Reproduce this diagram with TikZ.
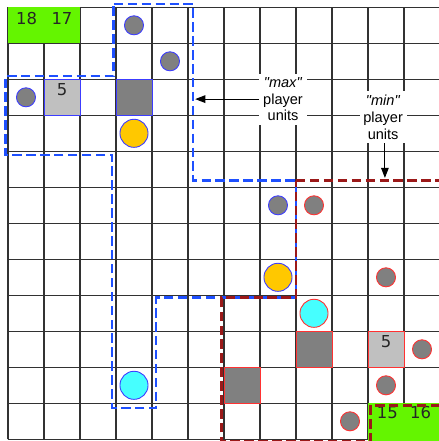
\documentclass[tikz,border=0pt]{standalone}
\usepackage{fontspec}
\newfontfamily\labelfont{Liberation Sans}
\newfontfamily\numfont{DejaVu Sans}
\usetikzlibrary{arrows.meta,positioning}
\definecolor{GridGray}{RGB}{50,50,50}
\definecolor{HomeGreen}{RGB}{100,245,0}
\definecolor{UnitGray}{RGB}{128,128,128}
\definecolor{BaseGray}{RGB}{192,192,192}
\definecolor{MaxBlue}{RGB}{30,80,255}
\definecolor{MinRed}{RGB}{155,25,25}
\definecolor{EdgeBlue}{RGB}{60,60,255}
\definecolor{EdgeRed}{RGB}{255,50,50}
\definecolor{GoldYellow}{RGB}{255,200,0}
\definecolor{AquaCyan}{RGB}{70,255,255}

\begin{document}
\begin{tikzpicture}[
    gridline/.style={draw=GridGray,line width=1pt},
    home/.style={fill=HomeGreen},
    cellbox/.style={draw=#1,line width=0.7pt,minimum size=1cm,inner sep=0pt},
    pawn/.style={circle,draw=#1,fill=UnitGray,line width=0.7pt,minimum size=0.53cm,inner sep=0pt},
    bigpawn/.style={circle,draw=#1,line width=0.7pt,minimum size=0.78cm,inner sep=0pt},
    cellnum/.style={font=\numfont\fontsize{13}{15}\selectfont,text=black!85,inner sep=0pt},
    zone/.style={line width=2.2pt,dash pattern=on 7.5pt off 3.5pt},
    tag/.style={fill=white,align=center,inner sep=3pt,font=\labelfont\fontsize{11.5}{13.2}\selectfont},
    arr/.style={-{Triangle[length=8pt,width=6pt]},line width=0.8pt}
  ]
    \useasboundingbox (-0.222,0.203) rectangle (11.972,-12.047);
    \clip (-0.222,0.203) rectangle (11.972,-12.047);

    % board
    \draw[gridline] (0,0) grid (12,-12);
    \fill[home] (0,0) rectangle (2,-1);
    \fill[home] (10,-11) rectangle (12.3,-12.3);
    \node[cellnum] (n18) at (0.52,-0.32) {18};
    \node[cellnum] (n17) at (1.5,-0.32) {17};
    \node[cellnum] (n15) at (10.54,-11.25) {15};
    \node[cellnum] (n16) at (11.46,-11.25) {16};

    % max player
    \node[pawn=EdgeBlue] (b1) at (3.5,-0.5) {};
    \node[pawn=EdgeBlue] (b2) at (4.5,-1.5) {};
    \node[pawn=EdgeBlue] (b3) at (0.5,-2.5) {};
    \node[cellbox=EdgeBlue,fill=BaseGray] (bbase) at (1.5,-2.5) {};
    \node[cellnum] (bbasenum) at ([yshift=-0.3cm]bbase.north) {5};
    \node[cellbox=EdgeBlue,fill=UnitGray] (bblock) at (3.5,-2.5) {};
    \node[bigpawn=EdgeBlue,fill=GoldYellow] (bgold1) at (3.5,-3.5) {};
    \node[pawn=EdgeBlue] (b4) at (7.5,-5.5) {};
    \node[bigpawn=EdgeBlue,fill=GoldYellow] (bgold2) at (7.5,-7.5) {};
    \node[bigpawn=EdgeBlue,fill=AquaCyan] (baqua) at (3.5,-10.5) {};

    % min player
    \node[pawn=EdgeRed] (r1) at (8.5,-5.5) {};
    \node[pawn=EdgeRed] (r2) at (10.5,-7.5) {};
    \node[bigpawn=EdgeRed,fill=AquaCyan] (raqua) at (8.5,-8.5) {};
    \node[cellbox=EdgeRed,fill=UnitGray] (rblock1) at (8.5,-9.5) {};
    \node[cellbox=EdgeRed,fill=BaseGray] (rbase) at (10.5,-9.5) {};
    \node[cellnum] (rbasenum) at ([yshift=-0.3cm]rbase.north) {5};
    \node[pawn=EdgeRed] (r3) at (11.5,-9.5) {};
    \node[pawn=EdgeRed] (r4) at (10.5,-10.5) {};
    \node[cellbox=EdgeRed,fill=UnitGray] (rblock2) at (6.5,-10.5) {};
    \node[pawn=EdgeRed] (r5) at (9.5,-11.5) {};

    % unit zones
    \draw[zone,MaxBlue] (2.94,0.09) -- (5.14,0.09) -- (5.14,-4.82) -- (8,-4.82) -- (8,-8.07)
      -- (4.11,-8.07) -- (4.11,-11.13) -- (2.89,-11.13) -- (2.89,-4.10) -- (-0.08,-4.10)
      -- (-0.08,-1.91) -- (2.94,-1.91) -- cycle;
    \draw[zone,MinRed] (8,-4.82) -- (12.3,-4.82) -- (12.3,-11.05) -- (10.08,-11.05)
      -- (10.08,-12.06) -- (5.92,-12.06) -- (5.92,-8.07) -- (8,-8.07) -- cycle;

    % labels
    \node[tag] (maxtag) at (7.64,-2.55) {\textit{"max"}\\player\\units};
    \node[tag] (mintag) at (10.42,-3.05) {\textit{"min"}\\player\\units};
    \coordinate (maxedge) at (5.2,-2.55);
    \coordinate (minedge) at (10.47,-4.74);
    \draw[arr] (maxtag.west) -- (maxedge);
    \draw[arr] (mintag.south -| minedge) -- (minedge);
\end{tikzpicture}
\end{document}
